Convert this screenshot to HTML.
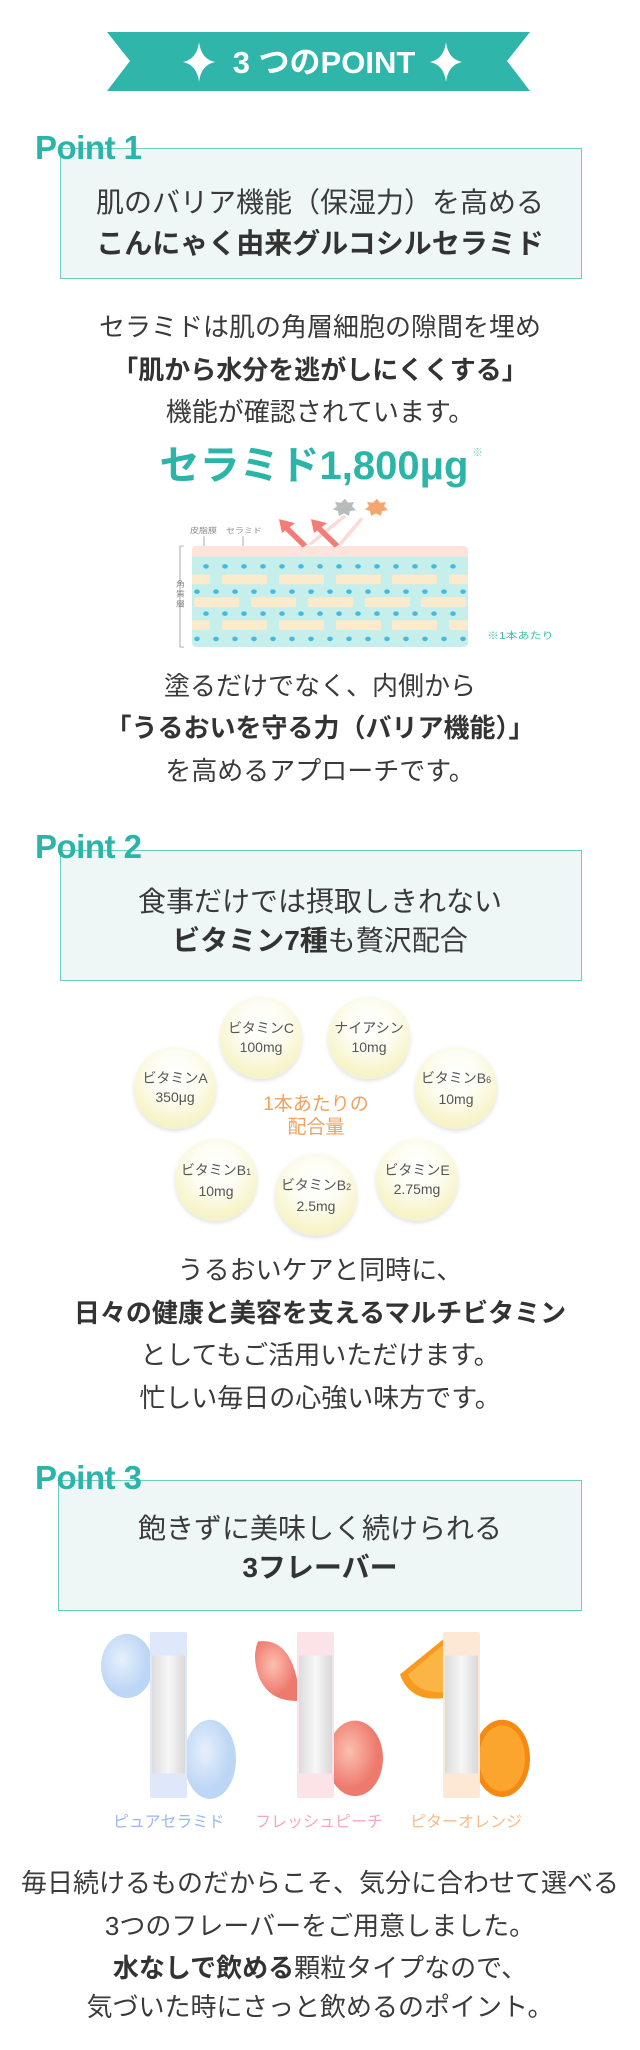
<!DOCTYPE html>
<html><head><meta charset="utf-8"><style>
body{margin:0;background:#fff;}
#p{position:relative;width:640px;height:2050px;overflow:hidden;font-family:"Liberation Sans","Noto Sans CJK JP",sans-serif;color:#3a3a3a;}
.t{position:absolute;left:0;width:640px;text-align:center;font-size:26px;height:36px;line-height:36px;white-space:nowrap;}
.b{font-weight:bold;color:#333;}
.box{position:absolute;left:60px;width:522px;background:#eef7f6;border:1.5px solid #6dcdc5;box-sizing:border-box;}
.pt{position:absolute;left:35px;font-size:33px;font-weight:bold;color:#2bb5a8;line-height:36px;letter-spacing:-0.5px;}
.bt{font-size:28px;}
.vit{position:absolute;width:82px;height:82px;border-radius:50%;background:radial-gradient(circle at 50% 35%,#fff 0%,#fdfdf3 35%,#f7f4c8 70%,#eeeede 100%);box-shadow:0 2px 4px rgba(0,0,0,0.12);text-align:center;font-size:14px;color:#555;line-height:19px;box-sizing:border-box;padding-top:22px;}
.fl{position:absolute;font-size:16px;top:1811px;height:24px;line-height:24px;}
</style></head><body><div id="p">

<svg style="position:absolute;left:0;top:0" width="640" height="130">
<polygon points="107,32 530,32 507,61 530,91 107,91 130,61" fill="#2fb5a9"/>
<g fill="#fff">
<path d="M199,42 Q201,59 215,62 Q201,65 199,82 Q197,65 183,62 Q197,59 199,42Z"/>
<path d="M446,42 Q448,59 462,62 Q448,65 446,82 Q444,65 430,62 Q444,59 446,42Z"/>
</g>
<text x="324" y="73" text-anchor="middle" font-size="31" font-weight="bold" fill="#fff" font-family="Liberation Sans,Noto Sans CJK JP,sans-serif">3 つのPOINT</text>
</svg>

<div class="box" style="top:148px;height:131px"></div>
<div class="pt" style="top:130px">Point 1</div>
<div class="t bt" style="top:185px">肌のバリア機能（保湿力）を高める</div>
<div class="t bt b" style="top:226px">こんにゃく由来グルコシルセラミド</div>

<div class="t" style="top:309px">セラミドは肌の角層細胞の隙間を埋め</div>
<div class="t b" style="top:352px">「肌から水分を逃がしにくくする」</div>
<div class="t" style="top:394px">機能が確認されています。</div>

<div class="t b" style="top:443px;font-size:40px;height:46px;line-height:46px;color:#2bb5a8;left:-6px">セラミド1,800μg</div>
<div style="position:absolute;left:472px;top:444px;font-size:11px;color:#7ccfc6">※</div>

<svg style="position:absolute;left:0;top:0" width="640" height="700">
<g transform="translate(0,546) scale(1,0.815) translate(0,-572)">
<text x="190" y="556" font-size="9" fill="#888" font-family="Noto Sans CJK JP,sans-serif">皮脂膜</text>
<text x="226" y="556" font-size="9" fill="#888" font-family="Noto Sans CJK JP,sans-serif">セラミド</text>
<line x1="204" y1="560" x2="204" y2="578" stroke="#aaa" stroke-width="1"/>
<line x1="243" y1="560" x2="243" y2="597" stroke="#aaa" stroke-width="1"/>
<path d="M184,572 L180,572 L180,696 L184,696" fill="none" stroke="#aaa" stroke-width="1"/>
<text x="176" y="622" font-size="9" fill="#888" font-family="Noto Sans CJK JP,sans-serif">角</text>
<text x="176" y="634" font-size="9" fill="#888" font-family="Noto Sans CJK JP,sans-serif">質</text>
<text x="176" y="646" font-size="9" fill="#888" font-family="Noto Sans CJK JP,sans-serif">層</text>
<rect x="192" y="572" width="276" height="124" rx="5" fill="#c6eeea"/>
<path d="M192,585 L192,577 Q192,572 197,572 L463,572 Q468,572 468,577 L468,585Z" fill="#fde3dc"/>
<g fill="#fbeacc">
<rect x="192" y="607" width="18" height="12" rx="2"/><rect x="222" y="607" width="45" height="12" rx="2"/><rect x="279" y="607" width="45" height="12" rx="2"/><rect x="336" y="607" width="45" height="12" rx="2"/><rect x="392" y="607" width="45" height="12" rx="2"/><rect x="449" y="607" width="19" height="12" rx="2"/>
<rect x="194" y="635" width="45" height="12" rx="2"/><rect x="251" y="635" width="45" height="12" rx="2"/><rect x="308" y="635" width="45" height="12" rx="2"/><rect x="365" y="635" width="45" height="12" rx="2"/><rect x="421" y="635" width="45" height="12" rx="2"/>
<rect x="192" y="663" width="18" height="12" rx="2"/><rect x="222" y="663" width="45" height="12" rx="2"/><rect x="279" y="663" width="45" height="12" rx="2"/><rect x="336" y="663" width="45" height="12" rx="2"/><rect x="392" y="663" width="45" height="12" rx="2"/><rect x="449" y="663" width="19" height="12" rx="2"/>
</g>
<g fill="#45b9e2">
<circle cx="206" cy="597" r="2.8"/><circle cx="225" cy="597" r="2.8"/><circle cx="244" cy="597" r="2.8"/><circle cx="263" cy="597" r="2.8"/><circle cx="282" cy="597" r="2.8"/><circle cx="301" cy="597" r="2.8"/><circle cx="320" cy="597" r="2.8"/><circle cx="339" cy="597" r="2.8"/><circle cx="358" cy="597" r="2.8"/><circle cx="377" cy="597" r="2.8"/><circle cx="396" cy="597" r="2.8"/><circle cx="415" cy="597" r="2.8"/><circle cx="434" cy="597" r="2.8"/><circle cx="453" cy="597" r="2.8"/>
<circle cx="197" cy="628" r="2.8"/><circle cx="216" cy="628" r="2.8"/><circle cx="235" cy="628" r="2.8"/><circle cx="254" cy="628" r="2.8"/><circle cx="273" cy="628" r="2.8"/><circle cx="292" cy="628" r="2.8"/><circle cx="311" cy="628" r="2.8"/><circle cx="330" cy="628" r="2.8"/><circle cx="349" cy="628" r="2.8"/><circle cx="368" cy="628" r="2.8"/><circle cx="387" cy="628" r="2.8"/><circle cx="406" cy="628" r="2.8"/><circle cx="425" cy="628" r="2.8"/><circle cx="444" cy="628" r="2.8"/><circle cx="463" cy="628" r="2.8"/>
<circle cx="206" cy="655" r="2.8"/><circle cx="225" cy="655" r="2.8"/><circle cx="244" cy="655" r="2.8"/><circle cx="263" cy="655" r="2.8"/><circle cx="282" cy="655" r="2.8"/><circle cx="301" cy="655" r="2.8"/><circle cx="320" cy="655" r="2.8"/><circle cx="339" cy="655" r="2.8"/><circle cx="358" cy="655" r="2.8"/><circle cx="377" cy="655" r="2.8"/><circle cx="396" cy="655" r="2.8"/><circle cx="415" cy="655" r="2.8"/><circle cx="434" cy="655" r="2.8"/><circle cx="453" cy="655" r="2.8"/>
<circle cx="197" cy="686" r="2.8"/><circle cx="216" cy="686" r="2.8"/><circle cx="235" cy="686" r="2.8"/><circle cx="254" cy="686" r="2.8"/><circle cx="273" cy="686" r="2.8"/><circle cx="292" cy="686" r="2.8"/><circle cx="311" cy="686" r="2.8"/><circle cx="330" cy="686" r="2.8"/><circle cx="349" cy="686" r="2.8"/><circle cx="368" cy="686" r="2.8"/><circle cx="387" cy="686" r="2.8"/><circle cx="406" cy="686" r="2.8"/><circle cx="425" cy="686" r="2.8"/><circle cx="444" cy="686" r="2.8"/><circle cx="463" cy="686" r="2.8"/>
</g>
<line x1="310" y1="570" x2="345" y2="535" stroke="#f9dcd8" stroke-width="4"/>
<line x1="340" y1="570" x2="362" y2="538" stroke="#f9dcd8" stroke-width="4"/>
<g stroke="#f47c78" stroke-width="6">
<line x1="305" y1="572" x2="285" y2="548"/><line x1="337" y1="572" x2="317" y2="548"/>
</g>
<polygon points="279,539 295,544 282,556" fill="#f47c78"/>
<polygon points="311,539 327,544 314,556" fill="#f47c78"/>
<polygon points="345,514 348,519 354,518 352,523 356,528 350,529 349,535 344,532 339,535 338,529 333,527 337,523 335,518 341,519" fill="#b8bcbc"/>
<polygon points="377,514 380,519 386,518 384,523 388,528 382,529 381,535 376,532 371,535 370,529 365,527 369,523 367,518 373,519" fill="#f3a76f"/>
<text x="487" y="686" font-size="12" fill="#3fbcb0" font-family="Liberation Sans,Noto Sans CJK JP,sans-serif">※1本あたり</text>
</g>
</svg>

<div class="t" style="top:668px">塗るだけでなく、内側から</div>
<div class="t b" style="top:710px">「うるおいを守る力（バリア機能）」</div>
<div class="t" style="top:753px">を高めるアプローチです。</div>

<div class="box" style="top:850px;height:131px"></div>
<div class="pt" style="top:829px">Point 2</div>
<div class="t bt" style="top:884px">食事だけでは摂取しきれない</div>
<div class="t bt" style="top:923px"><span class="b">ビタミン7種</span>も贅沢配合</div>

<div class="vit" style="left:220px;top:997px">ビタミンC<br>100mg</div>
<div class="vit" style="left:328px;top:997px">ナイアシン<br>10mg</div>
<div class="vit" style="left:134px;top:1047px">ビタミンA<br>350μg</div>
<div class="vit" style="left:415px;top:1047px">ビタミンB<span style="font-size:9px">6</span><br>10mg</div>
<div class="vit" style="left:175px;top:1139px">ビタミンB<span style="font-size:9px">1</span><br>10mg</div>
<div class="vit" style="left:275px;top:1154px">ビタミンB<span style="font-size:9px">2</span><br>2.5mg</div>
<div class="vit" style="left:376px;top:1139px">ビタミンE<br>2.75mg</div>
<div class="t" style="top:1092px;font-size:19px;height:26px;line-height:26px;color:#f0a25a;left:-4px">1本あたりの</div>
<div class="t" style="top:1115px;font-size:19px;height:26px;line-height:26px;color:#f0a25a;left:-4px">配合量</div>

<div class="t" style="top:1252px">うるおいケアと同時に、</div>
<div class="t b" style="top:1295px">日々の健康と美容を支えるマルチビタミン</div>
<div class="t" style="top:1337px">としてもご活用いただけます。</div>
<div class="t" style="top:1380px">忙しい毎日の心強い味方です。</div>

<div class="box" style="top:1480px;height:131px;left:58px;width:524px"></div>
<div class="pt" style="top:1460px">Point 3</div>
<div class="t bt" style="top:1511px">飽きずに美味しく続けられる</div>
<div class="t bt b" style="top:1550px">3フレーバー</div>

<svg style="position:absolute;left:0;top:0" width="640" height="1820">
<defs>
<linearGradient id="st" x1="0" x2="1"><stop offset="0" stop-color="#dcdcdc"/><stop offset="0.5" stop-color="#f7f7f7"/><stop offset="1" stop-color="#d8d8d8"/></linearGradient>
<radialGradient id="pe" cx="0.4" cy="0.4"><stop offset="0" stop-color="#fbc0b0"/><stop offset="1" stop-color="#ee7a6e"/></radialGradient>
<radialGradient id="bl" cx="0.4" cy="0.4"><stop offset="0" stop-color="#e6f0fc"/><stop offset="1" stop-color="#bcd6f5"/></radialGradient>
</defs>
<g transform="translate(0,1632) scale(1,0.943) translate(0,-1645)">
<ellipse cx="127" cy="1681" rx="26" ry="34" fill="url(#bl)"/>
<ellipse cx="210" cy="1780" rx="26" ry="42" fill="url(#bl)"/>
<path d="M258,1655 Q295,1650 300,1718 Q268,1720 258,1690 Q252,1670 258,1655Z" fill="url(#pe)"/>
<ellipse cx="355" cy="1779" rx="28" ry="40" fill="url(#pe)"/>
<path d="M444,1652 L400,1690 Q410,1720 444,1715Z" fill="#f79a1e"/>
<path d="M444,1658 L408,1690 Q416,1710 444,1709Z" fill="#fbb545"/>
<ellipse cx="502" cy="1779" rx="28" ry="41" fill="#f58a12"/>
<ellipse cx="502" cy="1779" rx="23" ry="35" fill="#fba42e"/>
<rect x="150" y="1645" width="37" height="176" rx="2" fill="#dfe8fb"/>
<rect x="152" y="1670" width="33" height="125" fill="url(#st)"/>
<rect x="297" y="1645" width="37" height="176" rx="2" fill="#fce3e7"/>
<rect x="299" y="1670" width="33" height="125" fill="url(#st)"/>
<rect x="443" y="1645" width="37" height="176" rx="2" fill="#fde8d5"/>
<rect x="445" y="1670" width="33" height="125" fill="url(#st)"/>
</g>
</svg>
<div class="fl" style="left:113px;color:#9ab8ee">ピュアセラミド</div>
<div class="fl" style="left:255px;color:#f5a8b8">フレッシュピーチ</div>
<div class="fl" style="left:410px;color:#f5bd85">ピターオレンジ</div>

<div class="t" style="top:1865px">毎日続けるものだからこそ、気分に合わせて選べる</div>
<div class="t" style="top:1908px">3つのフレーバーをご用意しました。</div>
<div class="t" style="top:1950px"><span class="b">水なしで飲める</span>顆粒タイプなので、</div>
<div class="t" style="top:1989px">気づいた時にさっと飲めるのポイント。</div>

</div></body></html>
